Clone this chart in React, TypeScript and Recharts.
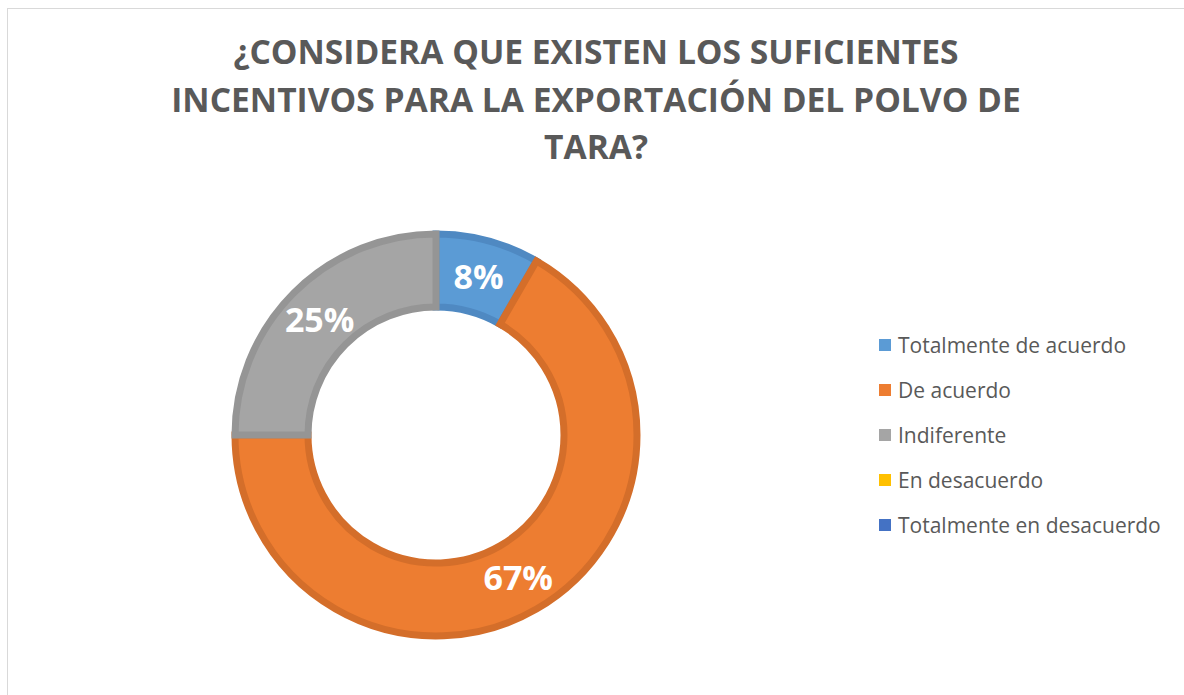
import { PieChart, Pie, Cell, Legend } from 'recharts'

const categories = [
  'Totalmente de acuerdo',
  'De acuerdo',
  'Indiferente',
  'En desacuerdo',
  'Totalmente en desacuerdo',
]
const counts = [2, 16, 6, 0, 0]
const fills = ['#5B9BD5', '#ED7D31', '#A5A5A5', '#FFC000', '#4472C4']
const strokes = ['#4F89C2', '#D46E2A', '#959595', '#E0A800', '#3B64AD']
const titleLines = [
  '¿CONSIDERA QUE EXISTEN LOS SUFICIENTES',
  'INCENTIVOS PARA LA EXPORTACIÓN DEL POLVO DE',
  'TARA?',
]

const pieData = categories
  .map((name, i) => ({ name, value: counts[i], idx: i }))
  .filter((d) => d.value > 0)

const RAD = Math.PI / 180

const renderLabel = (p: any) => {
  const r = (p.innerRadius + p.outerRadius) / 2
  const x = p.cx + r * Math.cos(-p.midAngle * RAD)
  const y = p.cy + r * Math.sin(-p.midAngle * RAD)
  return (
    <text
      x={x}
      y={y}
      fill="#fff"
      textAnchor="middle"
      dominantBaseline="central"
      fontFamily="'Open Sans', sans-serif"
      fontWeight={700}
      fontSize={34}
    >
      {`${Math.round(p.percent * 100)}%`}
    </text>
  )
}

const LegendBox = () => (
  <div style={{ fontFamily: "'Open Sans', sans-serif", fontSize: 21, color: '#595959' }}>
    {categories.map((c, i) => (
      <div key={c} style={{ display: 'flex', alignItems: 'center', height: 45 }}>
        <span
          style={{ width: 12, height: 12, background: fills[i], marginRight: 7, display: 'inline-block' }}
        />
        <span>{c}</span>
      </div>
    ))}
  </div>
)

export default function App() {
  return (
    <div style={{ position: 'absolute', left: 0, top: 0, width: 1184, height: 695, background: '#fff', overflow: 'hidden' }}>
      <div
        style={{
          position: 'absolute',
          left: 7,
          top: 8,
          width: 1200,
          height: 700,
          borderTop: '1px solid #d9d9d9',
          borderLeft: '1px solid #d9d9d9',
        }}
      />
      <div
        style={{
          position: 'absolute',
          left: 0,
          top: 28,
          width: 1192,
          textAlign: 'center',
          fontFamily: "'Open Sans', sans-serif",
          fontWeight: 700,
          fontSize: 33.6,
          lineHeight: '47.5px',
          color: '#595959',
        }}
      >
        {titleLines.map((l) => (
          <div key={l}>{l}</div>
        ))}
      </div>
      <div style={{ position: 'absolute', left: 0, top: 0 }}>
        <PieChart width={1184} height={695}>
          <Pie
            data={pieData}
            dataKey="value"
            nameKey="name"
            cx={431}
            cy={430}
            innerRadius={128}
            outerRadius={201}
            startAngle={90}
            endAngle={-270}
            strokeWidth={7}
            label={renderLabel}
            labelLine={false}
            isAnimationActive={false}
          >
            {pieData.map((d) => (
              <Cell key={d.name} fill={fills[d.idx]} stroke={strokes[d.idx]} />
            ))}
          </Pie>
          <Legend
            content={<LegendBox />}
            wrapperStyle={{ position: 'absolute', left: 879, top: 322, width: 300 }}
          />
        </PieChart>
      </div>
    </div>
  )
}
